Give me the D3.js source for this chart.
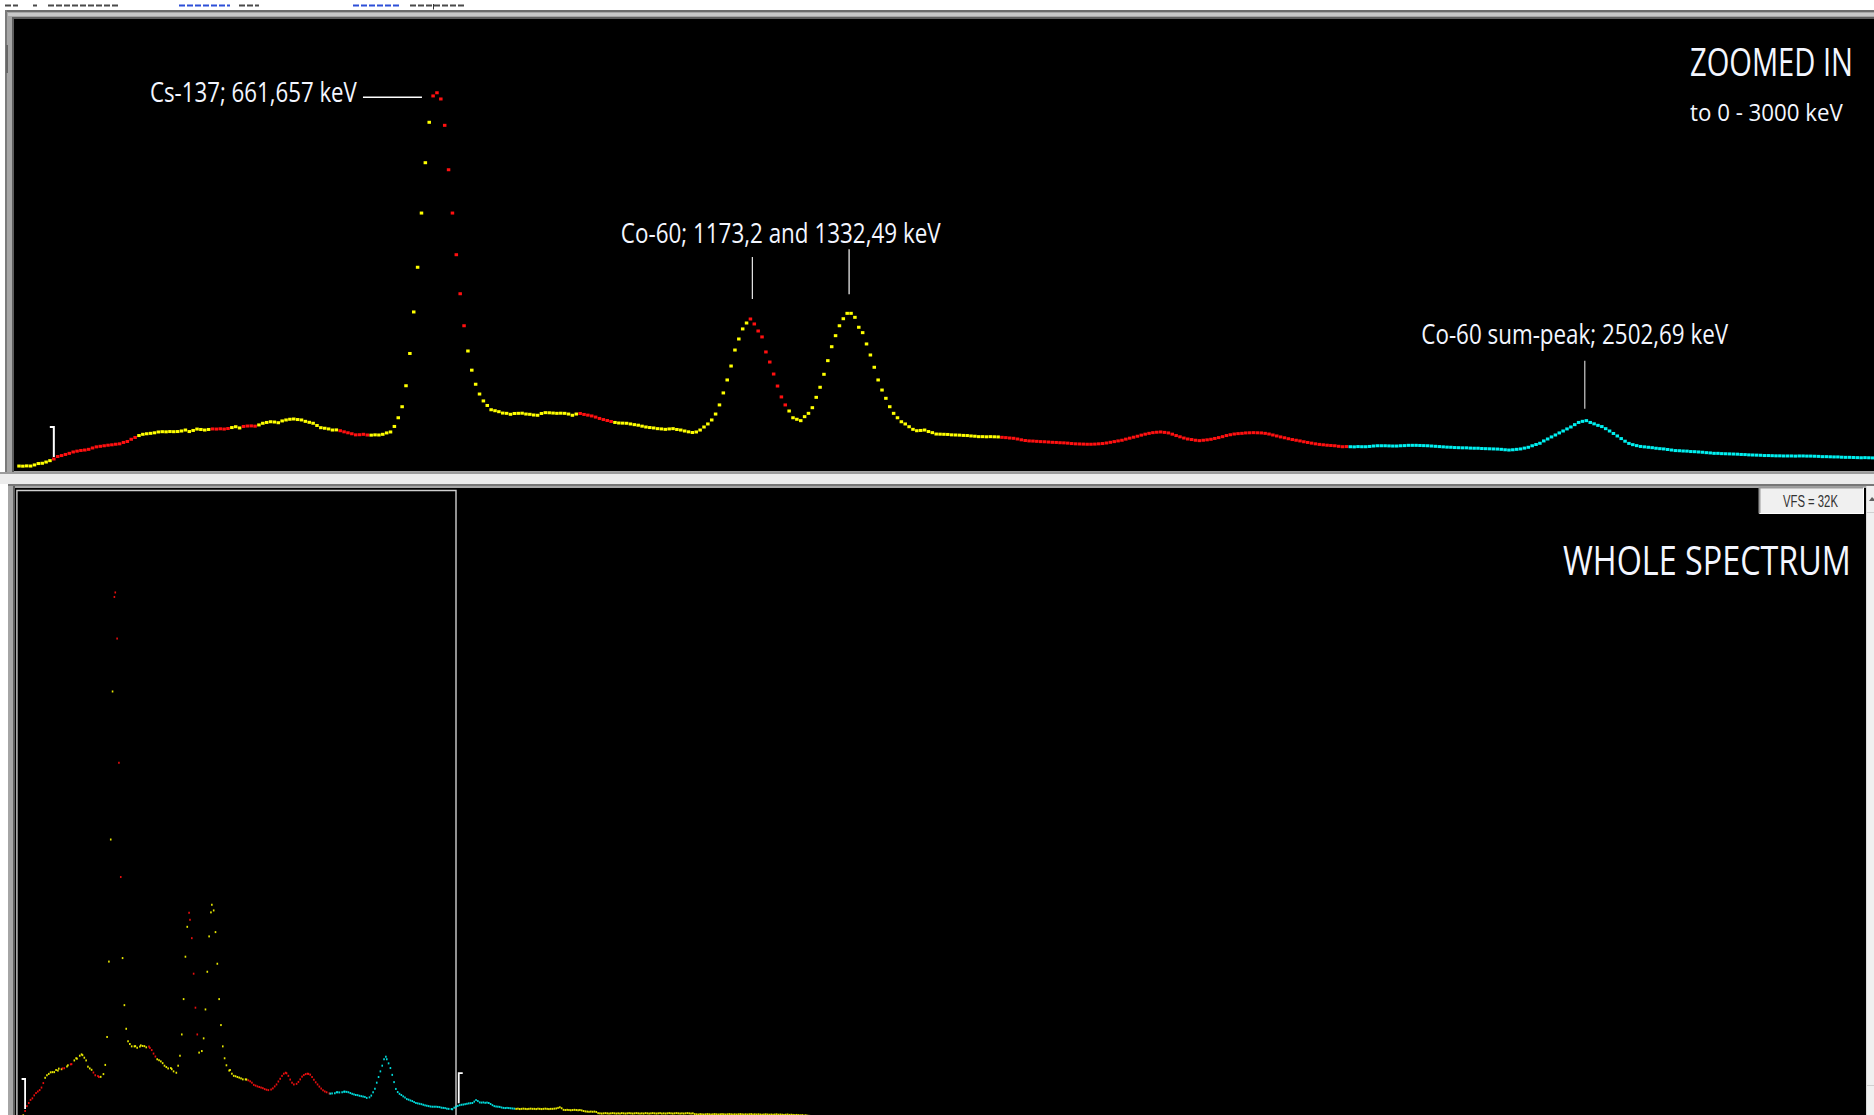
<!DOCTYPE html>
<html><head><meta charset="utf-8">
<script src="https://cdn.jsdelivr.net/npm/d3@7"></script>
<style>
html,body{margin:0;padding:0;background:#fff;overflow:hidden;}
svg{display:block;}
</style></head><body>
<svg id="chart" width="1874" height="1115"></svg>
<script>
// ---------------- DATA ----------------
// counts per channel, zoomed view (channels 0..479)
const zoomCounts = [
 360,350,370,360,440,540,560,650,750,870,
 1050,1120,1200,1280,1380,1440,1490,1520,1570,1670,
 1750,1790,1830,1870,1900,1940,1970,2070,2140,2300,
 2430,2570,2660,2700,2730,2770,2830,2850,2840,2860,
 2850,2860,2900,2970,2860,2940,3040,3010,2970,3010,
 3050,3040,3060,3040,3080,3150,3210,3120,3230,3260,
 3270,3250,3340,3460,3520,3570,3550,3500,3630,3700,
 3750,3770,3730,3700,3600,3530,3460,3300,3140,3100,
 3050,2970,2980,2920,2840,2770,2700,2620,2630,2660,
 2610,2600,2620,2610,2660,2760,2830,3230,3860,4660,
 6180,8520,11530,14770,18700,22350,25280,27190,27420,26970,
 25060,21840,18700,15680,12850,10530,8700,7310,6290,5580,
 5080,4750,4440,4370,4300,4200,4180,4110,4170,4180,
 4190,4130,4110,4060,4040,4170,4230,4220,4200,4180,
 4190,4180,4130,4040,4130,4170,4100,4050,3990,3910,
 3810,3730,3660,3590,3520,3480,3470,3460,3410,3360,
 3320,3250,3190,3150,3120,3070,3050,3020,3050,3070,
 3010,2970,2900,2840,2790,2830,2970,3190,3410,3700,
 4130,4790,5660,6600,7610,8770,9570,10300,10730,11020,
 10660,10150,9720,8630,7900,7030,6160,5370,4790,4350,
 3860,3750,3650,3940,4180,4590,5340,6070,7010,8000,
 9010,9810,10530,11040,11430,11430,11140,10420,10030,9210,
 8410,7520,6600,5870,5270,4660,4180,3860,3570,3410,
 3210,3020,2920,2940,2970,2860,2780,2680,2670,2660,
 2650,2620,2610,2600,2580,2570,2540,2520,2490,2490,
 2480,2490,2480,2470,2440,2420,2390,2370,2320,2260,
 2210,2180,2170,2150,2130,2120,2100,2080,2070,2050,
 2040,2020,1990,1970,1960,1950,1940,1940,1950,1970,
 1990,2030,2080,2130,2180,2230,2310,2380,2450,2520,
 2600,2670,2730,2780,2810,2830,2800,2760,2670,2570,
 2480,2390,2320,2280,2230,2200,2230,2260,2300,2360,
 2420,2490,2570,2630,2680,2710,2730,2760,2770,2780,
 2770,2760,2730,2680,2610,2540,2470,2410,2340,2280,
 2230,2180,2120,2070,2020,1970,1930,1900,1870,1850,
 1830,1790,1760,1770,1760,1750,1770,1760,1760,1780,
 1810,1830,1830,1830,1820,1810,1810,1830,1840,1860,
 1860,1860,1850,1840,1830,1810,1790,1770,1750,1730,
 1720,1700,1690,1680,1680,1660,1650,1650,1630,1620,
 1610,1600,1590,1570,1540,1520,1540,1570,1600,1660,
 1720,1830,1920,2010,2180,2320,2470,2610,2760,2900,
 3050,3190,3360,3520,3600,3650,3520,3420,3310,3220,
 3070,2900,2720,2540,2350,2160,2000,1910,1840,1780,
 1750,1720,1690,1650,1620,1600,1560,1520,1480,1470,
 1450,1440,1410,1400,1380,1360,1330,1310,1280,1280,
 1260,1250,1240,1230,1220,1200,1190,1170,1160,1150,
 1140,1120,1120,1110,1100,1100,1090,1090,1090,1080,
 1090,1090,1080,1080,1070,1060,1040,1040,1030,1020,
 1020,1000,990,990,980,970,960,970,960,950
];
// whole-spectrum tail beyond the zoom window: channel 480 onward, every 2nd channel
const tailStartChannel = 480;
const tailChannelStep = 2;
const tailCounts = [
 1040,1090,1130,1170,1190,1200,1220,1240,1260,1270,
 1280,1350,1430,1380,1310,1300,1310,1290,1300,1280,
 1230,1170,1120,1100,1090,1080,1050,1030,1020,1030,
 1020,1010,1000,990,980,990,970,980,990,980,
 970,980,990,980,980,970,990,980,970,980,
 990,980,970,980,980,990,1000,1030,1060,1010,
 930,920,930,920,910,920,930,920,910,920,
 900,870,850,840,830,840,830,840,820,760,
 750,740,750,760,750,740,750,760,750,740,
 750,740,760,750,740,750,760,750,740,750,
 760,750,740,750,740,760,750,740,750,760,
 750,740,750,760,740,750,740,750,760,750,
 740,750,760,750,740,750,740,750,760,750,
 740,750,710,700,690,710,700,690,700,710,
 700,690,700,710,700,690,700,710,700,690,
 700,710,700,690,700,690,700,710,700,690,
 700,690,700,710,690,700,690,700,690,680,
 690,700,690,680,690,680,690,700,680,690,
 680,670,680,690,670,680,670,660,670,660,
 650,660,640,650,630,620
];
// regions of interest (channel ranges) and their display colour class
const roiStart = [0, 9, 31, 50, 55, 58, 62, 83, 91, 107, 116, 145, 154, 189, 199, 254, 344, 548];
const roiEnd   = [8, 30, 49, 54, 57, 61, 82, 90, 106, 115, 144, 153, 188, 198, 253, 343, 547, 900];
const roiClass = ["Y","R","Y","R","Y","R","Y","R","Y","R","Y","R","Y","R","Y","R","C","Y"];
// peak annotations
const peakLabels = ["Cs-137; 661,657 keV", "Co-60; 1173,2 and 1332,49 keV", "Co-60 sum-peak; 2502,69 keV"];
const csChannel = 108;
const coChannels = [189.5, 214.5];
const sumChannel = 404.6;
// zoom window markers (channels)
const markerChannels = [9, 485];
const zoomWindow = [0, 482];
const titleTop = ["ZOOMED IN", "to 0 - 3000 keV"];
const titleBottom = "WHOLE SPECTRUM";
const vfsLabel = "VFS = 32K";
const fullScale = 32768;

// ---------------- SCALES ----------------
const W = 1874, H = 1115;
const xTop = d3.scaleLinear().domain([0, 479]).range([19, 19 + 479 * 3.87]);
const yTop = d3.scaleLinear().domain([0, fullScale]).range([471, 19]);
const xWhole = d3.scaleLinear().domain([0, 485]).range([16.9, 16.9 + 485 * 0.911]);
const yWhole = d3.scaleLinear().domain([0, fullScale]).range([1128, 488]);
const colorOf = d3.scaleOrdinal().domain(["Y","R","C"]).range(["#ffff00","#ff1010","#00f0f0"]);
function roiAt(c){
  for (let i = 0; i < roiStart.length; i++) if (c >= roiStart[i] && c <= roiEnd[i] + 0.99) return roiClass[i];
  return "Y";
}
function countAt(c){
  if (c < zoomCounts.length) return zoomCounts[Math.round(c)];
  const k = Math.round((c - tailStartChannel) / tailChannelStep);
  return tailCounts[Math.max(0, Math.min(tailCounts.length - 1, k))];
}

const svg = d3.select("#chart");
const defs = svg.append("defs");
defs.append("clipPath").attr("id","clipTop").append("rect").attr("x",14).attr("y",19).attr("width",1860).attr("height",452);
defs.append("clipPath").attr("id","clipBot").append("rect").attr("x",15).attr("y",488).attr("width",1851).attr("height",627);

// text fitted to a measured width (narrow display font emulated by horizontal scaling)
function fitText(str, x0, baseline, width, size, fill, family){
  const t = svg.append("text").attr("x",0).attr("y",0).attr("fill",fill)
    .attr("font-family",family).attr("font-size",size).text(str);
  const natural = t.node().getComputedTextLength() || width;
  t.attr("transform",`translate(${x0},${baseline}) scale(${width/natural},1)`);
  return t;
}

// ---------------- CHROME ----------------
svg.append("rect").attr("width",W).attr("height",H).attr("fill","#ffffff");
// faint cut-off status line at the very top
const dash = svg.append("g");
[[5,18,"#4a4a4a"],[33,37,"#4a4a4a"],[48,118,"#4a4a4a"],[179,230,"#2d4fd8"],[239,259,"#4a4a4a"],[353,400,"#2d4fd8"],[410,464,"#4a4a4a"]]
 .forEach(s => dash.append("line").attr("x1",s[0]).attr("x2",s[1]).attr("y1",5.5).attr("y2",5.5)
   .attr("stroke",s[2]).attr("stroke-width",2).attr("stroke-dasharray","6 2"));
dash.append("line").attr("x1",433.5).attr("x2",433.5).attr("y1",4).attr("y2",9.5).attr("stroke","#333").attr("stroke-width",1);

// top frame
svg.append("rect").attr("x",5).attr("y",10).attr("width",W-5).attr("height",465).attr("fill","#a6a6a6");
svg.append("rect").attr("x",5).attr("y",10).attr("width",W-5).attr("height",2).attr("fill","#6c6c6c");
svg.append("rect").attr("x",5).attr("y",10).attr("width",2).attr("height",465).attr("fill","#7a7a7a");
svg.append("rect").attr("x",8).attr("y",13).attr("width",W-8).attr("height",3).attr("fill","#c8c8c8");
svg.append("rect").attr("x",12).attr("y",17).attr("width",W-12).attr("height",2).attr("fill","#5e5e5e");
svg.append("rect").attr("x",12).attr("y",17).attr("width",2).attr("height",456).attr("fill","#5e5e5e");
svg.append("rect").attr("x",14).attr("y",19).attr("width",1860).attr("height",452).attr("fill","#000");
svg.append("rect").attr("x",6).attr("y",45).attr("width",2).attr("height",28).attr("fill","#666");
// separator
svg.append("rect").attr("x",0).attr("y",472).attr("width",W).attr("height",2).attr("fill","#9c9c9c");
svg.append("rect").attr("x",0).attr("y",474).attr("width",W).attr("height",10).attr("fill","#ececec");
// bottom frame
svg.append("rect").attr("x",8).attr("y",484).attr("width",W-8).attr("height",H-484).attr("fill","#a6a6a6");
svg.append("rect").attr("x",8).attr("y",484).attr("width",W-8).attr("height",2).attr("fill","#777");
svg.append("rect").attr("x",13).attr("y",486).attr("width",2).attr("height",H-486).attr("fill","#5e5e5e");
svg.append("rect").attr("x",15).attr("y",488).attr("width",1851).attr("height",H-488).attr("fill","#000");
// scrollbar
svg.append("rect").attr("x",1866).attr("y",486).attr("width",8).attr("height",H-486).attr("fill","#f0f0f0");
svg.append("rect").attr("x",1866).attr("y",486).attr("width",1).attr("height",H-486).attr("fill","#dadada");
svg.append("path").attr("d","M1869,501 L1872,497 L1874,499 L1874,501 Z").attr("fill","#606060");
svg.append("rect").attr("x",1867).attr("y",512).attr("width",7).attr("height",1).attr("fill","#d0d0d0");
svg.append("rect").attr("x",1867).attr("y",1085).attr("width",7).attr("height",1).attr("fill","#d0d0d0");

// ---------------- TOP (ZOOMED) SPECTRUM ----------------
const gTop = svg.append("g").attr("clip-path","url(#clipTop)");
const topPts = zoomCounts.map((v,c) => ({c, v}));
gTop.selectAll("rect.pt").data(topPts).join("rect").attr("class","pt")
  .attr("x", d => xTop(d.c) - 1.75).attr("y", d => yTop(d.v) - 1.5)
  .attr("width",3.5).attr("height",3).attr("fill", d => colorOf(roiAt(d.c)));

// marker "]" in zoom view
{
  const c = markerChannels[0], x = xTop(c), yb = yTop(countAt(c)) - 2;
  gTop.append("path").attr("d",`M${x-4},${yb-30} H${x} V${yb}`).attr("fill","none").attr("stroke","#fff").attr("stroke-width",2);
}

// annotations
const txt = "#f3f6ff";
const labFont = "'Open Sans', 'Noto Sans', sans-serif";
{
  const px = xTop(csChannel), py = yTop(countAt(csChannel)) + 4.5;
  svg.append("line").attr("x1",px-74).attr("x2",px-15).attr("y1",py).attr("y2",py).attr("stroke","#fff").attr("stroke-width",1.5);
  fitText(peakLabels[0], px-287, py+4.7, 207, 27, txt, labFont);
}
{
  const x1 = xTop(coChannels[0]), x2 = xTop(coChannels[1]);
  const y1 = yTop(countAt(189)) - 20, y2 = yTop(countAt(215)) - 19;
  svg.append("line").attr("x1",x1).attr("x2",x1).attr("y1",y1-42).attr("y2",y1).attr("stroke","#e8e8e8").attr("stroke-width",1.2);
  svg.append("line").attr("x1",x2).attr("x2",x2).attr("y1",y2-45).attr("y2",y2).attr("stroke","#d8d8d8").attr("stroke-width",1.4);
  fitText(peakLabels[1], x1-131.5, 242.5, 320, 27, txt, labFont);
}
{
  const x = xTop(sumChannel), y = yTop(countAt(405)) - 12;
  svg.append("line").attr("x1",x).attr("x2",x).attr("y1",y-48).attr("y2",y).attr("stroke","#e0e0e0").attr("stroke-width",1.1);
  fitText(peakLabels[2], x-163.5, y-64.5, 307, 27, txt, labFont);
}
fitText(titleTop[0], 1690, 75.7, 163, 38, txt, labFont);
fitText(titleTop[1], 1690, 120.7, 153, 24.5, txt, labFont);

// ---------------- BOTTOM (WHOLE) SPECTRUM ----------------
const gBot = svg.append("g").attr("clip-path","url(#clipBot)");
// zoom window frame
const wx0 = xWhole(zoomWindow[0]), wx1 = xWhole(zoomWindow[1]);
gBot.append("path").attr("d",`M${wx0},${H+2} V490.5 H${wx1} V${H+2}`).attr("fill","none").attr("stroke","#cfcfcf").attr("stroke-width",1.4);

// display decimation: pairs of channels, the larger one shown
const wholePts = [];
for (let k = 0; k < zoomCounts.length; k += 2) {
  const a = zoomCounts[k], b = zoomCounts[k+1] !== undefined ? zoomCounts[k+1] : -1;
  const c = b > a ? k + 1 : k;
  wholePts.push({c, v: Math.max(a, b)});
}
tailCounts.forEach((v,i) => wholePts.push({c: tailStartChannel + i * tailChannelStep, v}));
gBot.selectAll("rect.wp").data(wholePts).join("rect").attr("class","wp")
  .attr("x", d => xWhole(d.c) - 0.8).attr("y", d => yWhole(d.v) - 1)
  .attr("width",1.6).attr("height",2).attr("fill", d => colorOf(roiAt(d.c))).attr("opacity",0.9);

// markers "]" and "["
{
  const c0 = markerChannels[0], x0 = xWhole(c0), y0 = yWhole(countAt(c0)) - 2;
  gBot.append("path").attr("d",`M${x0-3.5},${y0-30} H${x0} V${y0}`).attr("fill","none").attr("stroke","#fff").attr("stroke-width",1.8);
  const c1 = markerChannels[1], x1 = xWhole(c1), y1 = yWhole(countAt(c1)) - 2;
  gBot.append("path").attr("d",`M${x1+4},${y1-30} H${x1} V${y1}`).attr("fill","none").attr("stroke","#fff").attr("stroke-width",1.8);
}

fitText(titleBottom, 1563, 575, 288, 40.5, txt, labFont);

// VFS box
svg.append("rect").attr("x",1759).attr("y",487).attr("width",105).attr("height",27).attr("fill","#f0f0f0");
svg.append("path").attr("d","M1759.5,513.5 V487.5 H1863.5").attr("fill","none").attr("stroke","#9a9a9a").attr("stroke-width",2);
svg.append("path").attr("d","M1760,513.5 H1863.5 V488").attr("fill","none").attr("stroke","#ffffff").attr("stroke-width",1);
fitText(vfsLabel, 1783, 507, 55, 17, "#333", "'Liberation Sans', Arial, sans-serif");
</script>
</body></html>
